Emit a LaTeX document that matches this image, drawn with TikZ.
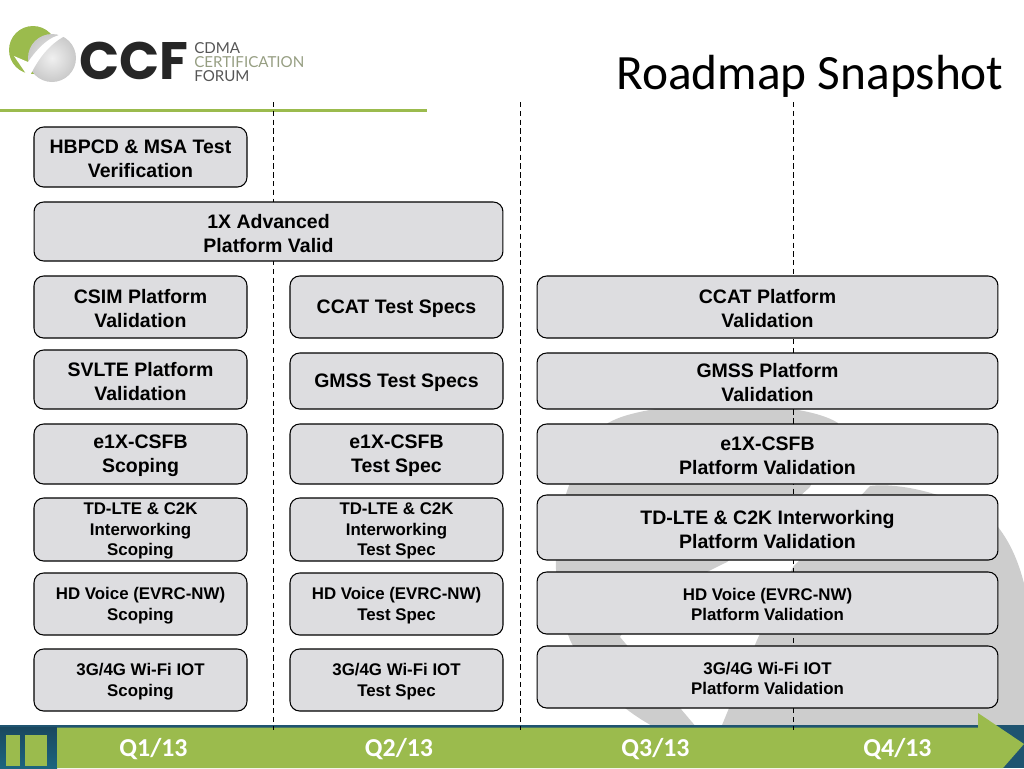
\documentclass[tikz,border=0pt]{standalone}
\usepackage{fontspec}
\setmainfont{Liberation Sans}
\newfontfamily\calibfont{Carlito}
\newfontfamily\logofont{Poppins}
\newfontfamily\logothin{Lato}
\usetikzlibrary{positioning}
\definecolor{ccfgreen}{RGB}{155,187,77}
\definecolor{ccfblue}{RGB}{31,84,112}
\definecolor{boxgray}{RGB}{221,221,224}
\definecolor{markgray}{RGB}{205,205,205}
\definecolor{logotxt}{RGB}{85,85,85}
\definecolor{logogrn}{RGB}{150,158,130}
\tikzset{
  tbox/.style={draw=black,fill=boxgray,line width=0.6pt,rounded corners=5.5pt,inner sep=0pt},
  boxtxt/.style={align=center,inner sep=0pt,text=black,yshift=-0.9pt},
  bigtxt/.style={font=\fontsize{11.1}{13.6}\selectfont\bfseries},
  smalltxt/.style={font=\fontsize{9.6}{11.7}\selectfont\bfseries},
  qtr/.style={font=\fontsize{14.7}{17}\selectfont\calibfont\bfseries,text=white},
  logoline/.style={font=\fontsize{8.6}{10}\selectfont\logothin,anchor=west,inner sep=0pt}
}
\begin{document}
\begin{tikzpicture}[x=0.02cm,y=-0.02cm]
  \useasboundingbox (0,0) rectangle (1024,768);
  % watermark behind the boxes
  \fill[markgray] (697,728) -- (620,637) -- (640,605) -- (727,562) -- (810,487) -- (838,423)
     .. controls (800,398) and (650,398) .. (608,423)
     .. controls (560,470) and (540,560) .. (570,640)
     .. controls (590,680) and (620,710) .. (660,730) -- cycle;
  \fill[markgray] (720,730) -- (757,640) -- (793,567) -- (870,486)
     .. controls (900,482) and (960,495) .. (998,527)
     .. controls (1024,560) and (1040,620) .. (1030,730) -- cycle;
  % header
  \fill[ccfgreen] (33,50) circle (24);
  \shade[inner color=gray!12,outer color=gray!42] (52,58) circle (24);
  \fill[white] (14,56) -- (29,78) .. controls (37,60) and (50,42) .. (69,34)
     .. controls (55,33) and (42,42) .. (28,62) -- cycle;
  \node[font=\fontsize{30}{32}\selectfont\logofont\bfseries,text=black!85,anchor=west,inner sep=0pt] (ccf) at (79,61) {CCF};
  \node[logoline,text=logotxt] (cdma) at (194,48) {CDMA};
  \node[logoline,text=logogrn] (cert) at (194,62) {CERTIFICATION};
  \node[logoline,text=logotxt] (forum) at (194,76) {FORUM};
  \node[font=\fontsize{28.1}{32}\selectfont\calibfont,anchor=east,inner sep=0pt] (title) at (1004,76.5) {Roadmap Snapshot};
  \draw[ccfgreen,line width=1.3pt] (0,110.5) -- (427,110.5);
  % timeline bar
  \fill[ccfblue] (0,725) rectangle (1024,768);
  \shade[top color=ccfblue!85!black,bottom color=ccfblue!90!cyan] (0,727) rectangle (57,768);
  \fill[ccfgreen] (57,727.5) -- (978,727.5) -- (978,713) -- (1024,744) -- (1003,768) -- (57,768) -- cycle;
  \fill[ccfgreen] (6,735) rectangle (20,766);
  \fill[ccfgreen] (25,735) rectangle (47,766);
  \node[qtr] (qone) at (153.5,749) {Q1/13};
  \node[qtr] (qtwo) at (399,749) {Q2/13};
  \node[qtr] (qthree) at (655.5,749) {Q3/13};
  \node[qtr] (qfour) at (897.5,749) {Q4/13};
  % quarter separators
  \foreach \nm/\dx in {qa/273,qb/520,qc/793.5}{
    \coordinate (\nm top) at (\dx,102);
    \coordinate (\nm bot) at (\dx,730);
    \draw[black,dashed,line width=0.5pt,dash pattern=on 3pt off 2pt] (\nm top) -- (\nm bot);
  }
  % first column
  \foreach \nm/\cy/\hgt/\sty/\txt in {
     hbpcd/157/60/bigtxt/{HBPCD \& MSA Test\\Verification},
     csim/307/62/bigtxt/{CSIM Platform\\Validation},
     svlte/379.5/59/bigtxt/{SVLTE Platform\\Validation},
     scope/454/60/bigtxt/{e1X-CSFB\\Scoping},
     tdscope/529.5/63/smalltxt/{TD-LTE \& C2K\\Interworking\\Scoping},
     hdscope/604/62/smalltxt/{HD Voice (EVRC-NW)\\Scoping},
     wifiscope/680/62/smalltxt/{3G/4G Wi-Fi IOT\\Scoping}}{
    \node[tbox,minimum width=4.26cm,minimum height=\hgt*0.02cm,label={[boxtxt,\sty]center:{\txt}}] (\nm) at (140.5,\cy) {};
  }
  \node[tbox,minimum width=9.38cm,minimum height=1.18cm,label={[boxtxt,bigtxt]center:{1X Advanced\\Platform Valid}}] (advanced) at (268.5,231.5) {};
  % second column
  \foreach \nm/\cy/\hgt/\sty/\txt in {
     ccat/307/62/bigtxt/{CCAT Test Specs},
     gmss/381/56/bigtxt/{GMSS Test Specs},
     spec/454/60/bigtxt/{e1X-CSFB\\Test Spec},
     tdspec/529.5/63/smalltxt/{TD-LTE \& C2K\\Interworking\\Test Spec},
     hdspec/604/62/smalltxt/{HD Voice (EVRC-NW)\\Test Spec},
     wifispec/680/62/smalltxt/{3G/4G Wi-Fi IOT\\Test Spec}}{
    \node[tbox,minimum width=4.26cm,minimum height=\hgt*0.02cm,label={[boxtxt,\sty]center:{\txt}}] (\nm) at (396.5,\cy) {};
  }
  % third column
  \foreach \nm/\cy/\hgt/\sty/\txt in {
     ccatplat/307/62/bigtxt/{CCAT Platform\\Validation},
     gmssplat/381/56/bigtxt/{GMSS Platform\\Validation},
     csfbplat/454/60/bigtxt/{e1X-CSFB\\Platform Validation},
     tdplat/527.5/65/bigtxt/{TD-LTE \& C2K Interworking\\Platform Validation},
     hdplat/603/62/smalltxt/{HD Voice (EVRC-NW)\\Platform Validation},
     wifiplat/677/62/smalltxt/{3G/4G Wi-Fi IOT\\Platform Validation}}{
    \node[tbox,minimum width=9.22cm,minimum height=\hgt*0.02cm,label={[boxtxt,\sty]center:{\txt}}] (\nm) at (767.5,\cy) {};
  }
\end{tikzpicture}
\end{document}
